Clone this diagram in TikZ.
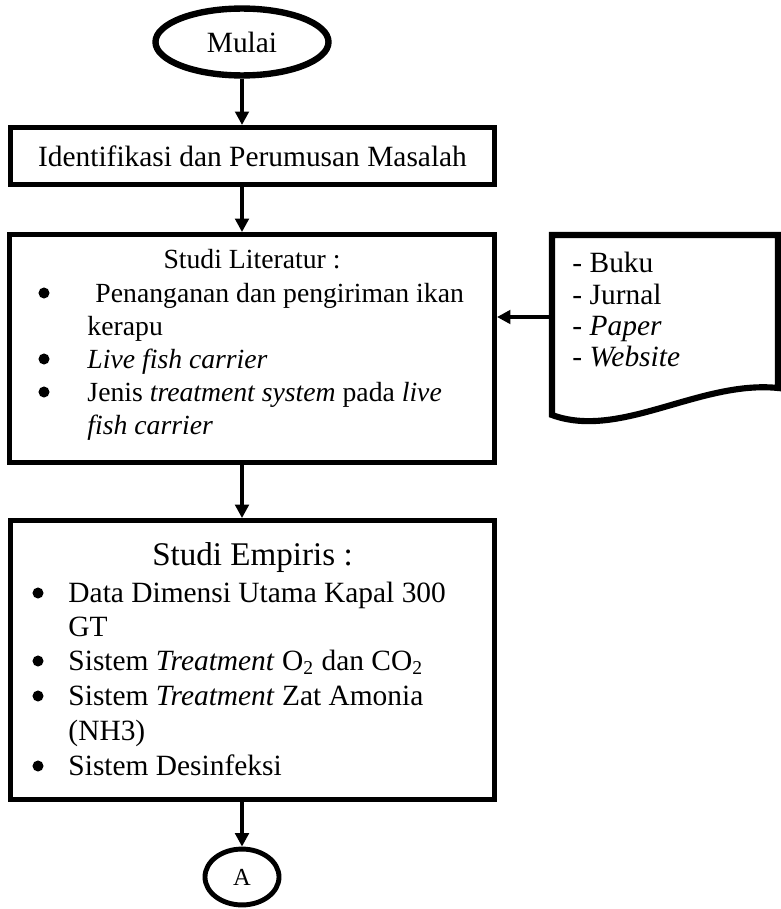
\documentclass[tikz,border=0pt]{standalone}
\usepackage{fontspec}
\setmainfont{Liberation Serif}
\usetikzlibrary{shapes.geometric,arrows.meta}
\begin{document}
\begin{tikzpicture}[x=0.408pt,y=-0.408pt,
  box/.style={draw,line width=2pt,inner sep=0pt,font=\fontsize{12}{14}\selectfont},
  term/.style={draw,ellipse,line width=2.6pt,inner sep=0pt,font=\fontsize{12}{14}\selectfont},
  txt/.style={inner sep=0pt,anchor=base west,font=\fontsize{12}{14}\selectfont},
  littxt/.style={txt,font=\fontsize{11.3}{13}\selectfont},
  dot/.style={circle,fill,inner sep=0pt,minimum size=4.5pt},
  flow/.style={-{Triangle[length=5.5pt,width=5.5pt]},line width=1.6pt}]
\useasboundingbox (0,0) rectangle (781,909);

\node[term,minimum width=70.6pt,minimum height=27.3pt] (mulai) at (242,42) {Mulai};

\node[box,minimum width=197.5pt,minimum height=23.3pt] (ident) at (252.5,156) {Identifikasi dan Perumusan Masalah};

\node[box,minimum width=197.9pt,minimum height=93pt] (lit) at (252,348.5) {};
\node[littxt,anchor=base] (lithead) at (252,268) {Studi Literatur :};
\node[dot] (litb1) at (44,293) {};
\node[dot] (litb2) at (44,359) {};
\node[dot] (litb3) at (44,392) {};
\node[littxt] (lit1) at (95,302) {Penanganan dan pengiriman ikan};
\node[littxt] (lit1b) at (87,335) {kerapu};
\node[littxt] (lit2) at (87,368) {\textit{Live fish carrier}};
\node[littxt] (lit3) at (87,401) {Jenis \textit{treatment system} pada \textit{live}};
\node[littxt] (lit3b) at (87,434) {\textit{fish carrier}};

\draw[line width=2.5pt] (552,235) -- (778,235) -- (778,388)
  .. controls (700,380) and (620,440) .. (552,415) -- cycle;
\node[txt,anchor=north west,align=left,font=\fontsize{12}{12.7}\selectfont] (sumber) at (572,252)
  {- Buku\\- Jurnal\\- \textit{Paper}\\- \textit{Website}};
\coordinate (sumberin) at (552,317);

\node[box,minimum width=197.5pt,minimum height=113.8pt] (emp) at (252.5,660) {};
\node[txt,anchor=base,font=\fontsize{13.5}{16}\selectfont] (emphead) at (252.5,565) {Studi Empiris :};
\node[dot] (empb1) at (38,593) {};
\node[dot] (empb2) at (38,661) {};
\node[dot] (empb3) at (38,696) {};
\node[dot] (empb4) at (38,766) {};
\node[txt] (emp1) at (68,602) {Data Dimensi Utama Kapal 300};
\node[txt] (emp1b) at (68,636) {GT};
\node[txt] (emp2) at (68,670) {Sistem \textit{Treatment} O\textsubscript{2} dan CO\textsubscript{2}};
\node[txt] (emp3) at (68,705) {Sistem \textit{Treatment} Zat Amonia};
\node[txt] (emp3b) at (68,740) {(NH3)};
\node[txt] (emp4) at (68,775) {Sistem Desinfeksi};

\node[term,line width=2pt,minimum width=30.2pt,minimum height=22.8pt,font=\fontsize{10}{12}\selectfont] (a) at (242,877) {A};

\draw[flow] (mulai.south) -- (mulai.south |- ident.north);
\draw[flow] (ident.south -| mulai) -- (lit.north -| mulai);
\draw[flow] (sumberin) -- (lit.east |- sumberin);
\draw[flow] (lit.south -| mulai) -- (emp.north -| mulai);
\draw[flow] (emp.south -| a) -- (a.north);
\end{tikzpicture}
\end{document}
